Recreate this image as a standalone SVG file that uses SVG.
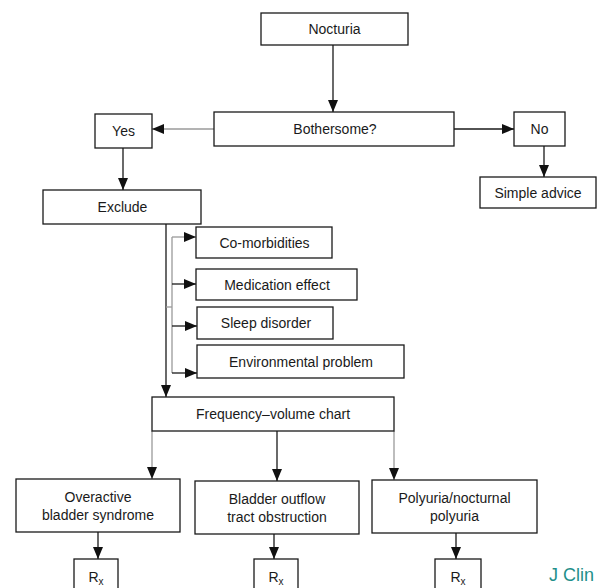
<svg xmlns="http://www.w3.org/2000/svg" width="601" height="588" viewBox="0 0 601 588">
<defs>
<style>
.box{fill:#fff;stroke:#1a1a1a;stroke-width:1.3}
.t{font-family:"Liberation Sans",Arial,sans-serif;font-size:14px;fill:#1a1a1a;text-anchor:middle}
.c{fill:none;stroke:#1a1a1a;stroke-width:1.3}
.g{fill:none;stroke:#9a9a9a;stroke-width:1.3}
.a{marker-end:url(#ah)}
</style>
<marker id="ah" viewBox="0 0 12 10" refX="12" refY="5" markerWidth="12" markerHeight="10" markerUnits="userSpaceOnUse" orient="auto">
<path d="M0,0 L12,5 L0,10 z" fill="#111"/>
</marker>
</defs>
<rect width="601" height="588" fill="#fff"/>
<g id="connectors">
<path class="c a" d="M333,45 V112"/>
<path class="g a" d="M214,129 H152"/>
<path class="c a" d="M454,129 H514"/>
<path class="c a" d="M123,148 V190"/>
<path class="c a" d="M544,146 V177"/>
<path class="c a" d="M166,224 V397"/>
<path class="g" d="M166,307 H172"/>
<path class="g" d="M172,237 V373"/>
<path class="g a" d="M172,237 H196"/>
<path class="c a" d="M172,284 H196"/>
<path class="c a" d="M172,326 H197"/>
<path class="c a" d="M172,373 H197"/>
<path class="g a" d="M152,431 V479"/>
<path class="c a" d="M277,431 V481"/>
<path class="g a" d="M394,431 V480"/>
<path class="c a" d="M98,532 V559"/>
<path class="c a" d="M274,534 V559"/>
<path class="c a" d="M456,533 V559"/>
</g>
<g id="nocturia"><rect class="box" x="261" y="13" width="147" height="32"/><text class="t" x="334.5" y="34">Nocturia</text></g>
<g id="bothersome"><rect class="box" x="214" y="112" width="240" height="34"/><text class="t" x="335" y="134">Bothersome?</text></g>
<g id="yes"><rect class="box" x="95" y="114" width="57" height="34"/><text class="t" x="123.5" y="136">Yes</text></g>
<g id="no"><rect class="box" x="514" y="112" width="51" height="34"/><text class="t" x="539.5" y="134">No</text></g>
<g id="simple-advice"><rect class="box" x="480" y="177" width="116" height="31"/><text class="t" x="538" y="197.5">Simple advice</text></g>
<g id="exclude"><rect class="box" x="43" y="190" width="158" height="34"/><text class="t" x="122.5" y="212">Exclude</text></g>
<g id="comorbidities"><rect class="box" x="196" y="227" width="136" height="31"/><text class="t" x="264.5" y="247.5">Co-morbidities</text></g>
<g id="medication"><rect class="box" x="196" y="269" width="161" height="31"/><text class="t" x="277" y="289.5">Medication effect</text></g>
<g id="sleep"><rect class="box" x="197" y="307" width="136" height="32"/><text class="t" x="266" y="328">Sleep disorder</text></g>
<g id="environmental"><rect class="box" x="197" y="345" width="207" height="33"/><text class="t" x="301" y="366.5">Environmental problem</text></g>
<g id="frequency"><rect class="box" x="152" y="397" width="242" height="34"/><text class="t" x="273" y="419">Frequency–volume chart</text></g>
<g id="overactive"><rect class="box" x="16" y="479" width="164" height="53"/><text class="t" x="98" y="502">Overactive</text><text class="t" x="98" y="520">bladder syndrome</text></g>
<g id="bladder-outflow"><rect class="box" x="195" y="481" width="164" height="53"/><text class="t" x="277" y="504">Bladder outflow</text><text class="t" x="277" y="522">tract obstruction</text></g>
<g id="polyuria"><rect class="box" x="372" y="480" width="165" height="53"/><text class="t" x="454.5" y="503">Polyuria/nocturnal</text><text class="t" x="454.5" y="521">polyuria</text></g>
<g id="rx1"><rect class="box" x="74" y="559" width="44" height="40"/><text class="t" x="96" y="582">R<tspan font-size="10" dy="3">x</tspan></text></g>
<g id="rx2"><rect class="box" x="254" y="559" width="44" height="40"/><text class="t" x="276" y="582">R<tspan font-size="10" dy="3">x</tspan></text></g>
<g id="rx3"><rect class="box" x="435" y="559" width="46" height="40"/><text class="t" x="458" y="582">R<tspan font-size="10" dy="3">x</tspan></text></g>
<text x="549" y="581" font-family="'Liberation Sans',Arial,sans-serif" font-size="18" fill="#1f8f8a">J Clin</text>
</svg>
